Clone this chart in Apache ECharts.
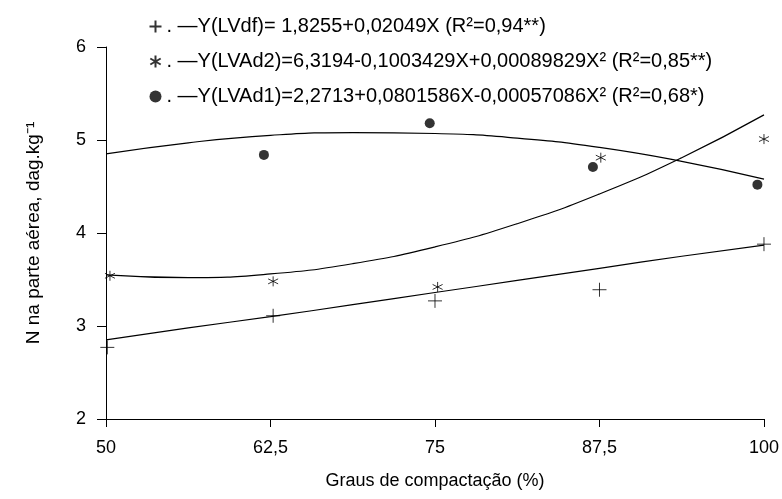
<!DOCTYPE html>
<html>
<head>
<meta charset="utf-8">
<script src="https://cdn.jsdelivr.net/npm/echarts@6/dist/echarts.min.js"></script>
<style>
  html, body { margin: 0; padding: 0; background: #fff; }
  #chart { width: 782px; height: 499px; }
</style>
</head>
<body>
<div id="chart"></div>
<script>
// nomes das equações (legenda)
const nameLVdf = 'Y(LVdf)= 1,8255+0,02049X (R²=0,94**)';
const nameLVAd2 = 'Y(LVAd2)=6,3194-0,1003429X+0,00089829X² (R²=0,85**)';
const nameLVAd1 = 'Y(LVAd1)=2,2713+0,0801586X-0,00057086X² (R²=0,68*)';

const xTicks = [50, 62.5, 75, 87.5, 100];

const xLVdf = [50.1, 62.7, 75, 87.5, 100];
const yLVdf = [2.77, 3.11, 3.27, 3.39, 3.88];
const xLVAd2 = [50.3, 62.7, 75.2, 87.6, 100];
const yLVAd2 = [3.54, 3.48, 3.42, 4.81, 5.01];
const xLVAd1 = [49.8, 62.0, 74.6, 87.0, 99.5];
const yLVAd1 = [4.83, 4.84, 5.18, 4.71, 4.52];

// curvas ajustadas
const xCurve = [50, 56.25, 62.5, 68.75, 75, 81.25, 87.5, 93.75, 100];
const curveLVdf = [2.85, 2.98, 3.10, 3.23, 3.36, 3.49, 3.62, 3.75, 3.87];
const curveLVAd2 = [3.55, 3.52, 3.56, 3.67, 3.85, 4.10, 4.42, 4.81, 5.27];
const curveLVAd1 = [4.85, 4.97, 5.05, 5.08, 5.07, 5.02, 4.92, 4.77, 4.58];

const zip = (xs, ys) => xs.map((x, i) => [x, ys[i]]);

const plusPath = 'path://M0,5L10,5M5,0L5,10';
const starPath = 'path://M5,0L5,10M0.67,2.5L9.33,7.5M0.67,7.5L9.33,2.5';

const chart = echarts.init(document.getElementById('chart'));

const lineStyle = { color: '#000', width: 1.2 };

const option = {
  backgroundColor: '#fff',
  animation: false,
  textStyle: { fontFamily: 'Liberation Sans, Arial, sans-serif', color: '#000' },
  legend: {
    orient: 'vertical',
    left: 142,
    top: 8,
    itemGap: 8,
    itemWidth: 12,
    itemHeight: 12,
    data: [nameLVdf, nameLVAd2, nameLVAd1],
    formatter: function (n) { return '. —' + n; },
    textStyle: { fontSize: 20, lineHeight: 21, color: '#000', padding: [0, 0, 6, 0] },
    selectedMode: false
  },
  grid: { left: 106, right: 14, top: 47, bottom: 80 },
  xAxis: {
    type: 'value',
    min: 50,
    max: 100,
    interval: 12.5,
    name: 'Graus de compactação (%)',
    nameLocation: 'middle',
    nameGap: 53,
    nameTextStyle: { fontSize: 18, color: '#000' },
    axisLine: { lineStyle: { color: '#000', width: 1 } },
    axisTick: { length: 8, lineStyle: { color: '#000' } },
    axisLabel: {
      fontSize: 18, color: '#000', margin: 20,
      formatter: v => String(v).replace('.', ',')
    },
    splitLine: { show: false }
  },
  yAxis: {
    type: 'value',
    min: 2,
    max: 6,
    interval: 1,
    name: 'N na parte aérea, dag.kg⁻¹',
    nameLocation: 'middle',
    nameGap: 63,
    nameTextStyle: { fontSize: 19, color: '#000' },
    axisLine: { show: true, lineStyle: { color: '#000', width: 1 } },
    axisTick: { show: true, length: 9, lineStyle: { color: '#000' } },
    axisLabel: { fontSize: 18, color: '#000', margin: 20 },
    splitLine: { show: false }
  },
  series: [
    {
      name: nameLVdf, type: 'scatter', data: zip(xLVdf, yLVdf),
      symbol: plusPath, symbolSize: 14,
      itemStyle: { color: 'none', borderColor: '#000', borderWidth: 1 }
    },
    {
      name: nameLVAd2, type: 'scatter', data: zip(xLVAd2, yLVAd2),
      symbol: starPath, symbolSize: 10,
      itemStyle: { color: 'none', borderColor: '#000', borderWidth: 1 }
    },
    {
      name: nameLVAd1, type: 'scatter', data: zip(xLVAd1, yLVAd1),
      symbol: 'circle', symbolSize: 10,
      itemStyle: { color: '#000' }
    },
    {
      name: 'fit LVdf', type: 'line', data: zip(xCurve, curveLVdf),
      showSymbol: false, smooth: true, lineStyle: lineStyle, silent: true
    },
    {
      name: 'fit LVAd2', type: 'line', data: zip(xCurve, curveLVAd2),
      showSymbol: false, smooth: true, lineStyle: lineStyle, silent: true
    },
    {
      name: 'fit LVAd1', type: 'line', data: zip(xCurve, curveLVAd1),
      showSymbol: false, smooth: true, lineStyle: lineStyle, silent: true
    }
  ]
};

chart.setOption(option);
window.onresize = function () { chart.resize(); };
</script>
</body>
</html>
